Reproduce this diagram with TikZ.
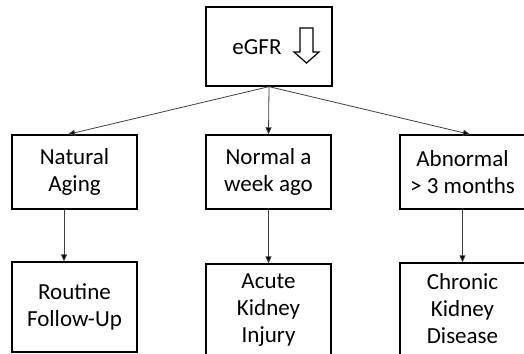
\documentclass[tikz,border=0pt]{standalone}
\usepackage{fontspec}
\setmainfont{Carlito}
\usetikzlibrary{arrows.meta,calc}
\begin{document}
\begin{tikzpicture}[x=1pt,y=-1pt,
  box/.style={draw=black,line width=1.3pt,fill=white,inner sep=0pt,align=center,
    font=\fontsize{23}{27}\selectfont},
  conn/.style={draw=black!75,line width=0.8pt,-{Triangle[length=7pt,width=6pt,fill=black]}},
  txt/.style={inner sep=0pt,font=\fontsize{23}{27}\selectfont}]
\useasboundingbox (0,0) rectangle (524,353);
\clip (0,0) rectangle (524,353);
% top box
\node[box,minimum width=126pt,minimum height=79pt] (top) at (269,46.5) {};
\node[txt] (egfr) at (257,47) {eGFR};
\draw[line width=1.2pt,fill=white,line join=miter]
  (300,28) -- (313,28) -- (313,52) -- (319,52) -- (306.5,63) -- (294,52) -- (300,52) -- cycle;
% middle row
\node[box,minimum width=125pt,minimum height=74pt] (nat) at (74.5,172) {Natural\\Aging};
\node[box,minimum width=125pt,minimum height=74pt] (norm) at (268.5,172) {Normal a\\week ago};
\node[box,minimum width=125pt,minimum height=74pt] (abn) at (462.5,172) {Abnormal\\> 3 months};
% bottom row
\node[box,minimum width=125pt,minimum height=90pt] (rout) at (74.5,307) {Routine\\Follow-Up};
\node[box,minimum width=125pt,minimum height=92pt] (aki) at (268.5,310) {Acute\\Kidney\\Injury};
\node[box,minimum width=125pt,minimum height=92pt] (ckd) at (462.5,309) {Chronic\\Kidney\\Disease};
% connectors
\draw[conn] (top.south) -- ([xshift=-6.5pt]nat.north);
\draw[conn] (top.south) -- (norm.north);
\draw[conn] (top.south) -- ([xshift=7.5pt]abn.north);
\draw[conn] ([xshift=-10.5pt]nat.south) -- ([xshift=-10.5pt]rout.north);
\draw[conn] (norm.south) -- (aki.north);
\draw[conn] (abn.south) -- (ckd.north);
\end{tikzpicture}
\end{document}
